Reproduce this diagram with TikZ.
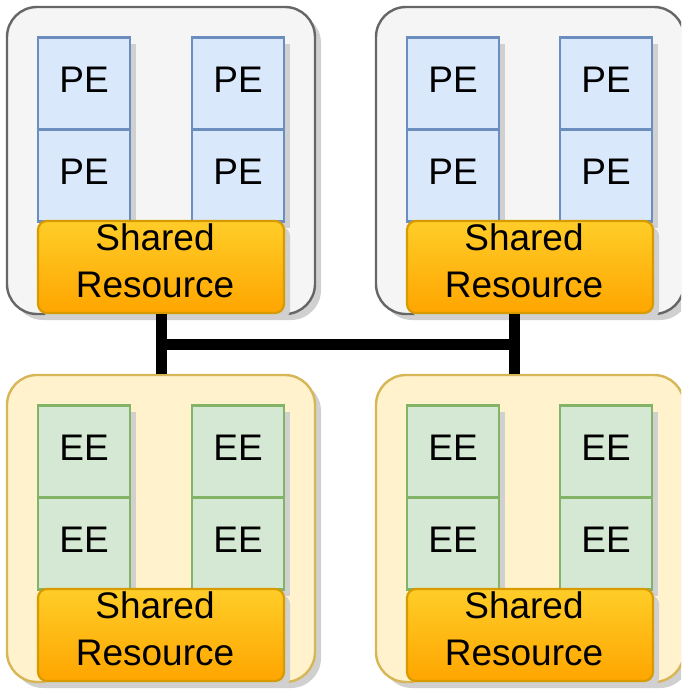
\documentclass[tikz,border=0pt]{standalone}
\usepackage{fontspec}
\setmainfont{Liberation Sans}
\usetikzlibrary{shadows}
\definecolor{tfill}{HTML}{F5F5F5}
\definecolor{tdraw}{HTML}{666666}
\definecolor{bfill}{HTML}{FFF2CC}
\definecolor{bdraw}{HTML}{D6B656}
\definecolor{pefill}{HTML}{DAE8FC}
\definecolor{pedraw}{HTML}{6C8EBF}
\definecolor{eefill}{HTML}{D5E8D4}
\definecolor{eedraw}{HTML}{82B366}
\definecolor{srtop}{HTML}{FFCD28}
\definecolor{srbot}{HTML}{FFA500}
\definecolor{srdraw}{HTML}{D79B00}
\definecolor{shadowgray}{HTML}{D0D0D0}
\begin{document}
\begin{tikzpicture}[x=1pt,y=-1pt,
  shadowed/.style={drop shadow={shadow xshift=6pt,shadow yshift=-6pt,fill=shadowgray,opacity=1}},
  cont/.style={draw, line width=2.4pt, rounded corners=30pt, minimum width=308pt, minimum height=307pt, inner sep=0pt, shadowed},
  topc/.style={cont, fill=tfill, draw=tdraw},
  botc/.style={cont, fill=bfill, draw=bdraw},
  txt/.style={font=\fontsize{37pt}{45pt}\selectfont, inner sep=0pt},
  cell/.style={draw, line width=2.2pt, minimum width=92pt, minimum height=92pt, inner sep=0pt,
    txt, text height=27pt, text depth=9pt, shadowed},
  pe/.style={cell, fill=pefill, draw=pedraw},
  ee/.style={cell, fill=eefill, draw=eedraw},
  shared/.style={draw=srdraw, line width=2.2pt, top color=srtop, bottom color=srbot, rounded corners=9pt,
    minimum width=246pt, minimum height=92pt, inner sep=0pt, shadowed},
  bus/.style={line width=11pt, black}
]
\useasboundingbox (0,0) rectangle (681,691);
\clip (0,0) rectangle (681,691);

% containers
\node[topc] (tc1) at (161,160.5) {};
\node[topc] (tc2) at (530,160.5) {};
\node[botc] (bc1) at (161,528.5) {};
\node[botc] (bc2) at (530,528.5) {};

% PE cells
\node[pe] (pa1) at (84,83.5) {PE};
\node[pe] (pb1) at (238,83.5) {PE};
\node[pe] (pc1) at (453,83.5) {PE};
\node[pe] (pd1) at (606,83.5) {PE};
\node[pe] (pa2) at (84,175.5) {PE};
\node[pe] (pb2) at (238,175.5) {PE};
\node[pe] (pc2) at (453,175.5) {PE};
\node[pe] (pd2) at (606,175.5) {PE};
\node[shared] (sr1) at (161,267) {};
\node[shared] (sr2) at (530,267) {};

% EE cells
\node[ee] (ea1) at (84,451.5) {EE};
\node[ee] (eb1) at (238,451.5) {EE};
\node[ee] (ec1) at (453,451.5) {EE};
\node[ee] (ed1) at (606,451.5) {EE};
\node[ee] (ea2) at (84,543.5) {EE};
\node[ee] (eb2) at (238,543.5) {EE};
\node[ee] (ec2) at (453,543.5) {EE};
\node[ee] (ed2) at (606,543.5) {EE};
\node[shared] (sr3) at (161,635) {};
\node[shared] (sr4) at (530,635) {};

% shared resource labels
\foreach \s in {sr1,sr2,sr3,sr4}{
  \node[txt, anchor=base] (\s a) at ([xshift=-6pt,yshift=-31pt]\s.north) {Shared};
  \node[txt, anchor=base] (\s b) at ([xshift=-6pt,yshift=-78pt]\s.north) {Resource};
}

% bus
\coordinate (j1) at (161.5,344);
\coordinate (j2) at (514,344);
\draw[bus] (j1 |- sr1.south) -- (j1 |- bc1.north);
\draw[bus] (j2 |- sr2.south) -- (j2 |- bc2.north);
\draw[bus] (j1) -- (j2);
\end{tikzpicture}
\end{document}
